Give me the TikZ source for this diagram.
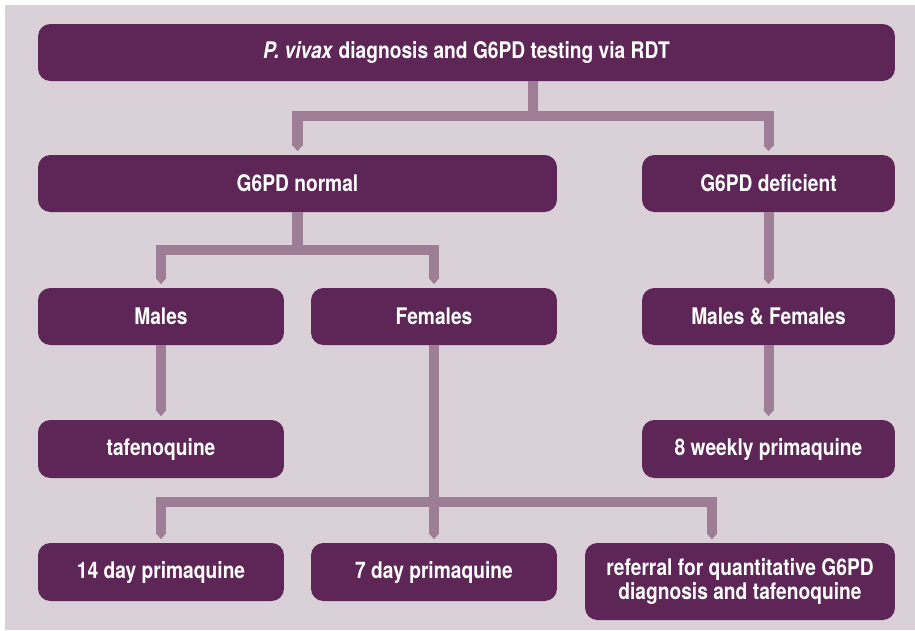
\documentclass[tikz,border=0pt]{standalone}
\usepackage{fontspec}
\setmainfont{TeX Gyre Heros}[FakeStretch=0.84]
\usepackage{tikz}
\usetikzlibrary{arrows.meta,positioning,calc}

\definecolor{plum}{RGB}{93,38,87}
\definecolor{pipecol}{RGB}{158,126,149}
\definecolor{backcol}{RGB}{218,208,216}

\begin{document}
\begin{tikzpicture}[
    x=0.02cm, y=-0.02cm,
    every node/.style={font=\fontsize{13}{14}\selectfont\bfseries},
    box/.style={rectangle, rounded corners=7pt, fill=plum, text=white, inner sep=0pt, minimum height=1.14cm, align=center},
    pipe/.style={draw=pipecol, line width=5.7pt},
    drop/.style={pipe, -{Triangle[width=0pt 1, length=0pt 0.6]}, shorten >=2pt}
]

% Background
\useasboundingbox (0,0) rectangle (915,630);
\fill[white] (0,0) rectangle (915,630);
\fill[backcol] (5,5) rectangle (915,630);

% Top
\node[box, minimum width=17.14cm] (top) at (466.5,52.5) {\textit{P. vivax} diagnosis and G6PD testing via RDT};

% G6PD status
\node[box, minimum width=10.38cm] (normal) at (297.5,183.5) {G6PD normal};
\node[box, minimum width=5.06cm] (deficient) at (768.5,183.5) {G6PD deficient};

% Sex
\node[box, minimum width=4.92cm] (males) at (161,316.5) {Males};
\node[box, minimum width=4.92cm] (females) at (434,316.5) {Females};
\node[box, minimum width=5.06cm] (both) at (768.5,316.5) {Males \& Females};

% Treatments
\node[box, minimum width=4.92cm, minimum height=1.16cm] (tafeno) at (161,449) {tafenoquine};
\node[box, minimum width=5.06cm, minimum height=1.16cm] (weekly) at (768.5,449) {8 weekly primaquine};
\node[box, minimum width=4.92cm, minimum height=1.16cm] (day14) at (161,572) {14 day primaquine};
\node[box, minimum width=4.92cm, minimum height=1.16cm] (day7) at (434,572) {7 day primaquine};
\node[box, minimum width=6.2cm, minimum height=1.54cm] (referral) at (740,581.5) {referral for quantitative G6PD\\diagnosis and tafenoquine};

% Junctions
\coordinate (j1) at (533,116);
\coordinate (j2) at (297.5,250);
\coordinate (j3) at (434,502);
\coordinate (jr) at (712,543);

% Pipes
\draw[pipe] (top.south -| j1) -- (j1);
\draw[drop] (j1) -| (normal);
\draw[drop] (j1) -| (deficient);

\draw[pipe] (normal) -- (j2);
\draw[drop] (j2) -| (males);
\draw[drop] (j2) -| (females);
\draw[drop] (deficient) -- (both);

\draw[drop] (males) -- (tafeno);
\draw[drop] (both) -- (weekly);

\draw[pipe] (females) -- (j3);
\draw[drop] (j3) -| (day14);
\draw[drop] (j3) -- (day7);
\draw[drop] (j3) -| (jr);

\end{tikzpicture}
\end{document}
